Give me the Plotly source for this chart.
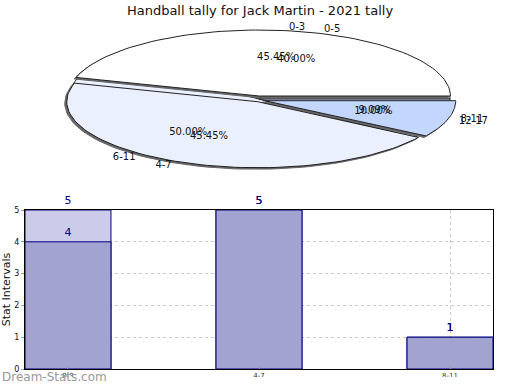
import numpy as np
import plotly.graph_objects as go

title = "Handball tally for Jack Martin - 2021 tally"
cats_a = ["0-3", "4-7", "8-11"]
vals_a = [5, 5, 1]
cats_b = ["0-5", "6-11", "12-17"]
vals_b = [4, 5, 1]
pie_colors = ["#ffffff", "#eaf0fe", "#c2d6fe"]
y_title = "Stat Intervals"

fig = go.Figure()

# ---- pseudo-3D elliptical pie (pixel space axes) ----
CX, CY, RX, RY = 259, 99, 191, 66


def wedge(a0, a1, dx=0.0, dy=0.0, n=80):
    t = np.radians(np.linspace(a0, a1, n))
    xs = np.concatenate([[CX + dx], CX + dx + RX * np.cos(t), [CX + dx]])
    ys = np.concatenate([[CY + dy], CY + dy - RY * np.sin(t), [CY + dy]])
    return xs, ys


def pie_series(vals, explode, shadow=False, outline="#222"):
    tot = sum(vals)
    ang = np.concatenate([[0], np.cumsum(vals) / tot * 360])
    for i in range(len(vals)):
        m = np.radians((ang[i] + ang[i + 1]) / 2)
        dx, dy = explode[i] * np.cos(m), -explode[i] * np.sin(m)
        if shadow:
            xs, ys = wedge(ang[i], ang[i + 1], dx - 2, dy + 1.5)
            fig.add_trace(go.Scatter(x=xs, y=ys, fill="toself", fillcolor="#666",
                                     line=dict(color="#666", width=1), mode="lines",
                                     xaxis="x2", yaxis="y2", hoverinfo="skip",
                                     showlegend=False))
    for i in range(len(vals)):
        m = np.radians((ang[i] + ang[i + 1]) / 2)
        dx, dy = explode[i] * np.cos(m), -explode[i] * np.sin(m)
        xs, ys = wedge(ang[i], ang[i + 1], dx, dy)
        fig.add_trace(go.Scatter(x=xs, y=ys, fill="toself", fillcolor=pie_colors[i],
                                 line=dict(color=outline, width=1), mode="lines",
                                 xaxis="x2", yaxis="y2", hoverinfo="skip",
                                 showlegend=False))
    return ang


def pie_labels(vals, cats, ang):
    tot = sum(vals)
    for i in range(len(vals)):
        m = np.radians((ang[i] + ang[i + 1]) / 2)
        pct = "%.2f%%" % (100.0 * vals[i] / tot)
        fig.add_trace(go.Scatter(x=[CX + 0.63 * RX * np.cos(m)], y=[CY - 0.63 * RY * np.sin(m)],
                                 mode="text", text=[pct], textposition="middle center",
                                 textfont=dict(size=10, color="#111"),
                                 xaxis="x2", yaxis="y2", hoverinfo="skip", showlegend=False))
        pos = "middle right" if np.cos(m) >= 0 else "middle left"
        fig.add_trace(go.Scatter(x=[CX + 1.1 * RX * np.cos(m)], y=[CY - 1.1 * RY * np.sin(m)],
                                 mode="text", text=[cats[i]], textposition=pos,
                                 textfont=dict(size=10, color="#111"),
                                 xaxis="x2", yaxis="y2", hoverinfo="skip", showlegend=False))


ang_b = pie_series(vals_b, [0, 0, 0])
ang_a = pie_series(vals_a, [3, 3, 6], shadow=True)
pie_labels(vals_a, cats_a, ang_a)
pie_labels(vals_b, cats_b, ang_b)

# ---- bar chart ----
fig.add_trace(go.Bar(x=cats_a, y=vals_a, width=0.45, marker=dict(color="#ccccea",
                     line=dict(color="#000080", width=1)),
                     text=[str(v) for v in vals_a], textposition="outside",
                     textfont=dict(color="#000080", size=11), cliponaxis=False,
                     showlegend=False, hoverinfo="skip"))
fig.add_trace(go.Bar(x=cats_a, y=vals_b, width=0.45, marker=dict(color="#a3a3d1",
                     line=dict(color="#000080", width=1)),
                     text=[str(v) for v in vals_b], textposition="outside",
                     textfont=dict(color="#000080", size=11), cliponaxis=False,
                     showlegend=False, hoverinfo="skip"))

fig.update_layout(
    width=520, height=390,
    margin=dict(l=0, r=0, t=0, b=0, autoexpand=False),
    paper_bgcolor="white", plot_bgcolor="white",
    barmode="overlay",
    font=dict(family="DejaVu Sans", color="#111"),
    title=dict(text=title, x=0.5, xanchor="center", y=1 - 10 / 390, yanchor="middle",
               font=dict(size=13, color="#111")),
    xaxis=dict(domain=[25 / 520, 493 / 520], range=[-0.225, 2.225], automargin=False,
               showgrid=True, gridcolor="#c8c8c8", griddash="dot",
               showline=True, mirror=True, linecolor="black", linewidth=1,
               ticks="inside", ticklen=3, tickcolor="#999",
               tickfont=dict(size=7, color="#333"), fixedrange=True),
    yaxis=dict(domain=[21 / 390, 180 / 390], range=[0, 5], dtick=1, automargin=False,
               showgrid=True, gridcolor="#c8c8c8", griddash="dot",
               showline=True, mirror=True, linecolor="black", linewidth=1,
               ticks="outside", ticklen=3, tickcolor="#999",
               tickfont=dict(size=8, color="#111"), zeroline=False,
               title=dict(text=y_title, font=dict(size=11, color="#111"), standoff=2)),
    xaxis2=dict(domain=[0, 1], range=[0, 520], visible=False, fixedrange=True),
    yaxis2=dict(domain=[195 / 390, 1], range=[195, 0], visible=False, fixedrange=True),
    shapes=[dict(type="rect", xref="paper", yref="paper", x0=0, x1=1, y0=0, y1=13 / 390,
                 fillcolor="white", line=dict(width=0), layer="above")],
    annotations=[dict(text="Dream-Stats.com", xref="paper", yref="paper", x=0, y=4 / 390,
                      xanchor="left", yanchor="bottom", showarrow=False,
                      font=dict(size=12, color="#999999", family="DejaVu Sans"))],
)

fig.write_html("out.html", config={"displayModeBar": False},
               post_script="document.body.style.margin='0';")
